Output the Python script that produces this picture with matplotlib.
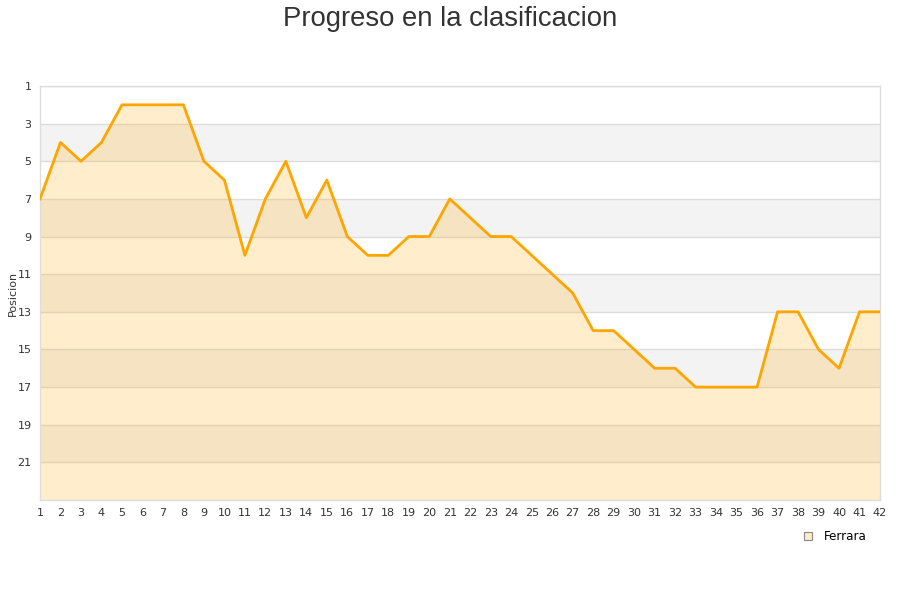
import matplotlib
matplotlib.use('Agg')
import matplotlib.pyplot as plt

# Jornadas and position of Ferrara
jornadas = list(range(1, 43))
posicion = [7, 4, 5, 4, 2, 2, 2, 2, 5, 6, 10, 7, 5, 8, 6, 9, 10, 10, 9, 9, 7,
            8, 9, 9, 10, 11, 12, 14, 14, 15, 16, 16, 17, 17, 17, 17, 13, 13, 15, 16, 13, 13]
yticks = list(range(1, 22, 2))
equipo = 'Ferrara'

fig = plt.figure(figsize=(9, 6), dpi=100)
ax = fig.add_axes([40 / 900, 100 / 600, 840 / 900, 414 / 600])

# alternate bands
for y0 in range(3, 23, 4):
    ax.axhspan(y0, y0 + 2, color='#f3f3f3', zorder=0, lw=0)
for y in yticks:
    ax.axhline(y, color='#dddddd', lw=1, zorder=1)

ax.fill_between(jornadas, posicion, 23, color='#ffa500', alpha=0.2, lw=0, zorder=2)
ax.plot(jornadas, posicion, color='#ffa500', lw=2, zorder=3)
ax.plot([], [], marker='s', ls='none', markersize=6, markerfacecolor='#ffebc8',
        markeredgecolor='#888888', markeredgewidth=0.8, label=equipo)

ax.set_xlim(1, 42)
ax.set_ylim(23, 1)
ax.set_xticks(jornadas)
ax.set_yticks(yticks)
ax.tick_params(labelsize=8, colors='#333333', length=0, pad=6)
ax.set_ylabel('Posicion', fontsize=8, color='#333333', labelpad=0)
for s in ['left', 'right', 'top', 'bottom']:
    ax.spines[s].set_color('#dddddd')
    ax.spines[s].set_linewidth(1)

fig.suptitle('Progreso en la clasificacion', x=0.5, y=0.99, fontsize=19.8,
             color='#333333', family='Liberation Sans')
fig.legend(loc='upper right', bbox_to_anchor=(0.975, 0.134), frameon=False,
           fontsize=8.6, handletextpad=0.8, handlelength=1)

fig.savefig('out.png', dpi=100)
